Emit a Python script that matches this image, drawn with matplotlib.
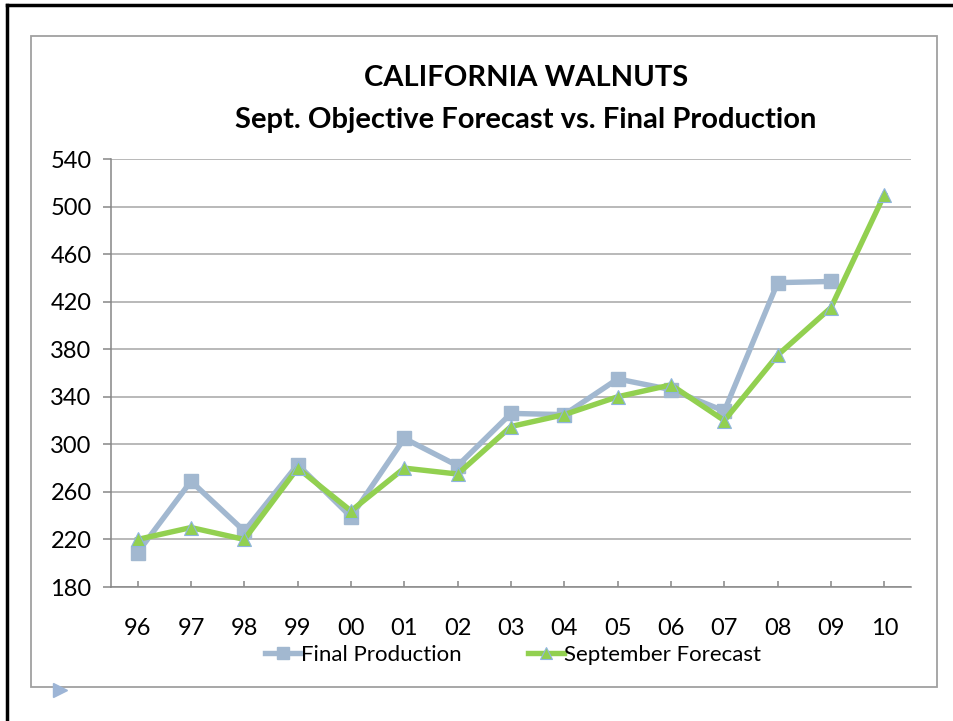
import matplotlib.pyplot as plt
from matplotlib.lines import Line2D
from matplotlib.patches import Rectangle

plt.rcParams['font.family'] = ['Lato', 'DejaVu Sans']

# data
years = ['96', '97', '98', '99', '00', '01', '02', '03', '04', '05', '06', '07', '08', '09', '10']
final_production = [209, 269, 227, 283, 239, 305, 282, 326, 325, 355, 346, 328, 436, 437, None]
sept_forecast = [220, 230, 220, 280, 244, 280, 275, 315, 325, 340, 350, 320, 375, 415, 510]
y_ticks = [180, 220, 260, 300, 340, 380, 420, 460, 500, 540]

blue = '#A2B8D0'
green = '#92D050'
grid_col = '#A6A6A6'

fig = plt.figure(figsize=(9.54, 7.21), dpi=100)
ax = fig.add_axes([111 / 954, 1 - 587 / 721, 800 / 954, 428 / 721])

x = list(range(len(years)))
fp_x = [i for i, v in zip(x, final_production) if v is not None]
fp_y = [v for v in final_production if v is not None]

ax.plot(fp_x, fp_y, color=blue, lw=3.9, marker='s', ms=10.5, mfc=blue, mec=blue,
        label='Final Production', zorder=3)
ax.plot(x, sept_forecast, color=green, lw=3.9, marker='^', ms=10.5, mfc=green, mec='#8FB4E0',
        mew=0.8, label='September Forecast', zorder=4)

ax.set_xlim(-0.5, len(years) - 0.5)
ax.set_ylim(180, 540)
ax.set_yticks(y_ticks)
ax.set_xticks(x)
ax.set_xticklabels(years)
ax.yaxis.grid(True, color=grid_col, lw=1.1)
ax.set_axisbelow(True)

for s in ['top', 'right']:
    ax.spines[s].set_visible(False)
for s in ['left', 'bottom']:
    ax.spines[s].set_color('#868686')
    ax.spines[s].set_linewidth(1.1)

ax.tick_params(axis='y', direction='out', length=6, width=1.1, color='#868686',
               labelsize=17, pad=8)
ax.tick_params(axis='x', direction='in', length=4.5, width=1.1, color='#868686',
               labelsize=17, pad=22)

fig.text(526 / 954, 1 - 78 / 721, 'CALIFORNIA WALNUTS', ha='center', va='center',
         fontsize=21, fontweight='bold')
fig.text(526 / 954, 1 - 120 / 721, 'Sept. Objective Forecast vs. Final Production',
         ha='center', va='center', fontsize=21, fontweight='bold')

fig.legend(loc='center', bbox_to_anchor=(513 / 954, 1 - 655 / 721), ncol=2,
           frameon=False, fontsize=16, handlelength=1.6, handletextpad=0.0,
           columnspacing=3.0, markerscale=0.85)

# chart area frame and outer border
fig.add_artist(Rectangle((31 / 954, 1 - 687 / 721), 906 / 954, 651 / 721,
                         transform=fig.transFigure, fill=False, ec='#A0A0A0', lw=1.3))
fig.add_artist(Line2D([7 / 954, 1], [1 - 5 / 721, 1 - 5 / 721],
                      transform=fig.transFigure, color='black', lw=2.5))
fig.add_artist(Line2D([7 / 954, 7 / 954], [0, 1 - 5 / 721],
                      transform=fig.transFigure, color='black', lw=2.5))
fig.add_artist(Line2D([60 / 954], [1 - 690 / 721], transform=fig.transFigure,
                      marker='>', ms=10, color='#9DB5D6', lw=0))

fig.savefig('out.png', dpi=100)
